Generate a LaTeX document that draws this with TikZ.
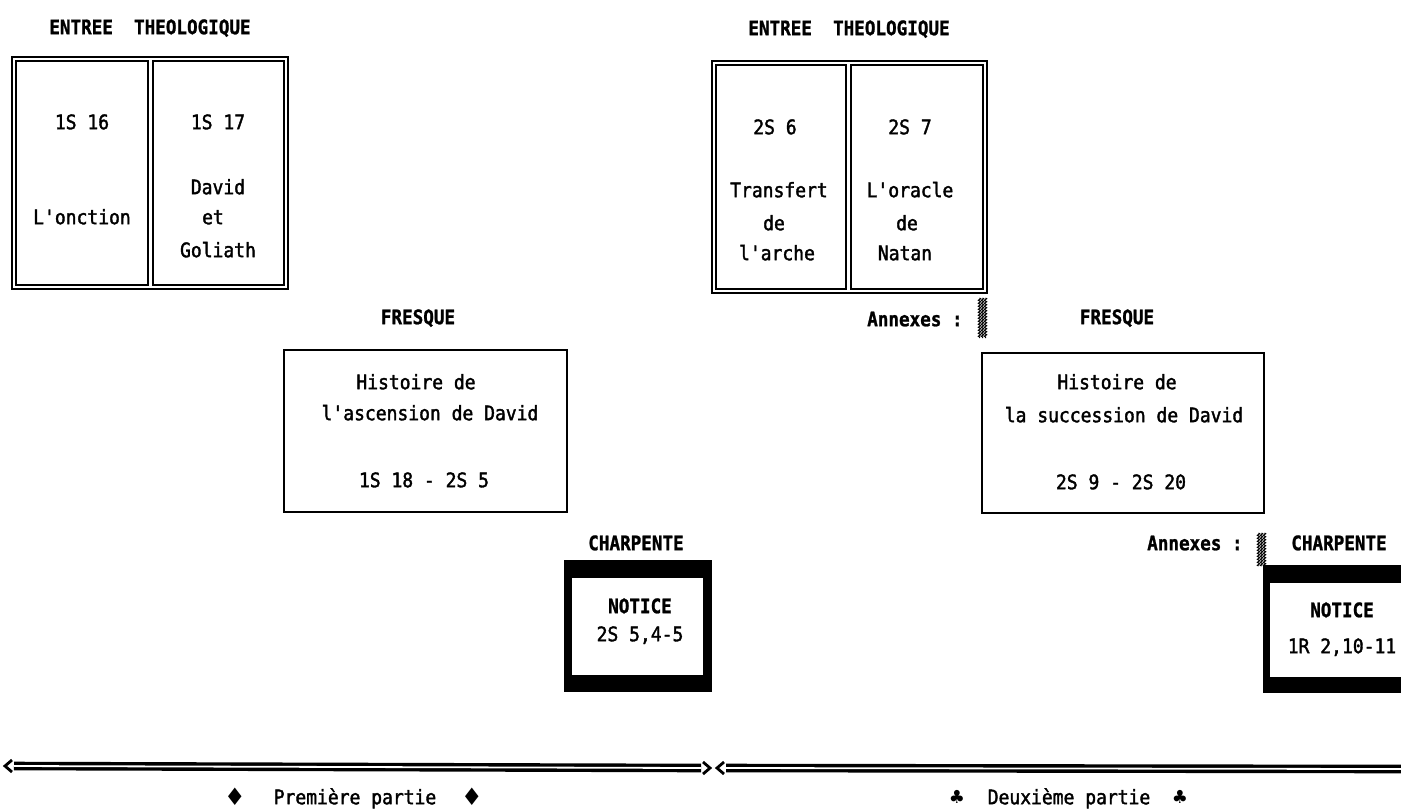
\documentclass[tikz,border=0pt]{standalone}
\usepackage{fontspec}
\newfontfamily\bodyfont[FakeStretch=0.9, FakeBold=1.8]{DejaVu Sans Mono}
\newfontfamily\headfont[FakeStretch=0.88, FakeBold=1.2]{DejaVu Sans Mono Bold}
\newfontfamily\symfont{DejaVu Sans}
\usetikzlibrary{decorations.pathmorphing}
\begin{document}
\begin{tikzpicture}[x=0.5pt,y=-0.5pt,
  txt/.style={font=\bodyfont\fontsize{10}{12}\selectfont, inner sep=0pt, text height=7.2pt, text depth=0pt},
  hd/.style={txt, font=\headfont\fontsize{10}{12}\selectfont},
  outerframe/.style={draw, line width=1pt, inner sep=0pt},
  cell/.style={draw, line width=0.7pt, inner sep=0pt},
  fbox/.style={draw, line width=0.8pt, inner sep=0pt},
  blk/.style={fill=black, inner sep=0pt},
  wht/.style={fill=white, inner sep=0pt},
  sym/.style={font=\symfont\fontsize{9}{11}\selectfont, inner sep=1pt},
  dia/.style={font=\symfont\fontsize{12}{14}\selectfont, inner sep=1pt},
  dblline/.style={double, double distance=0.9pt, line width=1.7pt},
  chev/.style={line width=1.4pt},
  hatch/.style={line width=0.5pt, decorate, decoration={zigzag, segment length=1.5pt, amplitude=0.6pt}}
]
\useasboundingbox (0,0) rectangle (1401,810);
\fill[white] (0,0) rectangle (1401,810);
\clip (0,0) rectangle (1401,810);

% ---------- Left entry ----------
\node[hd] (h1) at (150,27) {ENTREE\ \ THEOLOGIQUE};
\node[outerframe, minimum width=138pt, minimum height=116pt] (e1) at (150,173) {};
\node[cell, minimum width=66pt, minimum height=112pt] (e1a) at (82,173) {};
\node[cell, minimum width=65.5pt, minimum height=112pt] (e1b) at (218.5,173) {};
\node[txt] (t1) at (82,122) {1S 16};
\node[txt] (t2) at (82,217) {L'onction};
\node[txt] (t3) at (218,122) {1S 17};
\node[txt] (t4) at (218,187) {David};
\node[txt] (t5) at (213,217) {et};
\node[txt] (t6) at (218,250) {Goliath};

% ---------- Right entry ----------
\node[hd] (h2) at (849,28) {ENTREE\ \ THEOLOGIQUE};
\node[outerframe, minimum width=137.5pt, minimum height=116pt] (e2) at (849.5,177) {};
\node[cell, minimum width=65pt, minimum height=112pt] (e2a) at (781,177) {};
\node[cell, minimum width=66pt, minimum height=112pt] (e2b) at (917,177) {};
\node[txt] (u1) at (775,127) {2S 6};
\node[txt] (u2) at (779,190) {Transfert};
\node[txt] (u3) at (774,223) {de};
\node[txt] (u4) at (777,253) {l'arche};
\node[txt] (u5) at (910,127) {2S 7};
\node[txt] (u6) at (910,190) {L'oracle};
\node[txt] (u7) at (907,223) {de};
\node[txt] (u8) at (905,253) {Natan};

% ---------- Fresques ----------
\node[hd] (f1h) at (418,317) {FRESQUE};
\node[fbox, minimum width=141.5pt, minimum height=81pt] (f1) at (425.5,431) {};
\node[txt] (f1a) at (416,382) {Histoire de};
\node[txt] (f1b) at (430,413) {l'ascension de David};
\node[txt] (f1c) at (424,480) {1S 18 - 2S 5};

\node[hd] (f2h) at (1117,317) {FRESQUE};
\node[fbox, minimum width=141pt, minimum height=80pt] (f2) at (1123,433) {};
\node[txt] (f2a) at (1117,382) {Histoire de};
\node[txt] (f2b) at (1124,415) {la succession de David};
\node[txt] (f2c) at (1121,482) {2S 9 - 2S 20};

% ---------- Annexes ----------
\node[hd, anchor=east] (an1) at (963,319) {Annexes :};
\foreach \xx in {979.5,982.5,985.5}
  \draw[hatch] (\xx,298) -- (\xx,338);
\node[hd, anchor=east] (an2) at (1243,543) {Annexes :};
\foreach \xx in {1258.5,1261.5,1264.5}
  \draw[hatch] (\xx,533) -- (\xx,566);

% ---------- Charpente ----------
\node[hd] (c1h) at (636,543) {CHARPENTE};
\node[blk, minimum width=74pt, minimum height=66pt] (n1) at (638,626) {};
\node[wht, minimum width=65.5pt, minimum height=48.5pt] (n1i) at (637.5,626.5) {};
\node[hd] (n1a) at (640,606) {NOTICE};
\node[txt] (n1b) at (640,634) {2S 5,4-5};

\node[hd] (c2h) at (1339,543) {CHARPENTE};
\node[blk, minimum width=73.5pt, minimum height=64pt] (n2) at (1336.5,629) {};
\node[wht, minimum width=65.5pt, minimum height=47pt] (n2i) at (1335.5,630) {};
\node[hd] (n2a) at (1342,610) {NOTICE};
\node[txt] (n2b) at (1342,646) {1R 2,10-11};

% ---------- Bottom arrows ----------
\coordinate (a1) at (5,766);
\coordinate (a1s) at (14,766);
\coordinate (a2s) at (701,768);
\coordinate (a2) at (710,768);
\coordinate (b1) at (717,768);
\coordinate (b1s) at (726,768);
\coordinate (b2) at (1401,769);
\draw[dblline] (a1s) -- (a2s);
\draw[dblline] (b1s) -- (b2);
\draw[chev] ([shift={(7,-6)}]a1) -- (a1) -- ([shift={(7,6)}]a1);
\draw[chev] ([shift={(-7,-6)}]a2) -- (a2) -- ([shift={(-7,6)}]a2);
\draw[chev] ([shift={(7,-6)}]b1) -- (b1) -- ([shift={(7,6)}]b1);

% ---------- Bottom labels ----------
\node[dia] (d1) at (235,797) {♦};
\node[txt] (p1) at (355,797) {Première partie};
\node[dia] (d2) at (472,797) {♦};
\node[sym] (k1) at (957,797) {♣};
\node[txt] (p2) at (1069,797) {Deuxième partie};
\node[sym] (k2) at (1180,797) {♣};
\end{tikzpicture}
\end{document}
